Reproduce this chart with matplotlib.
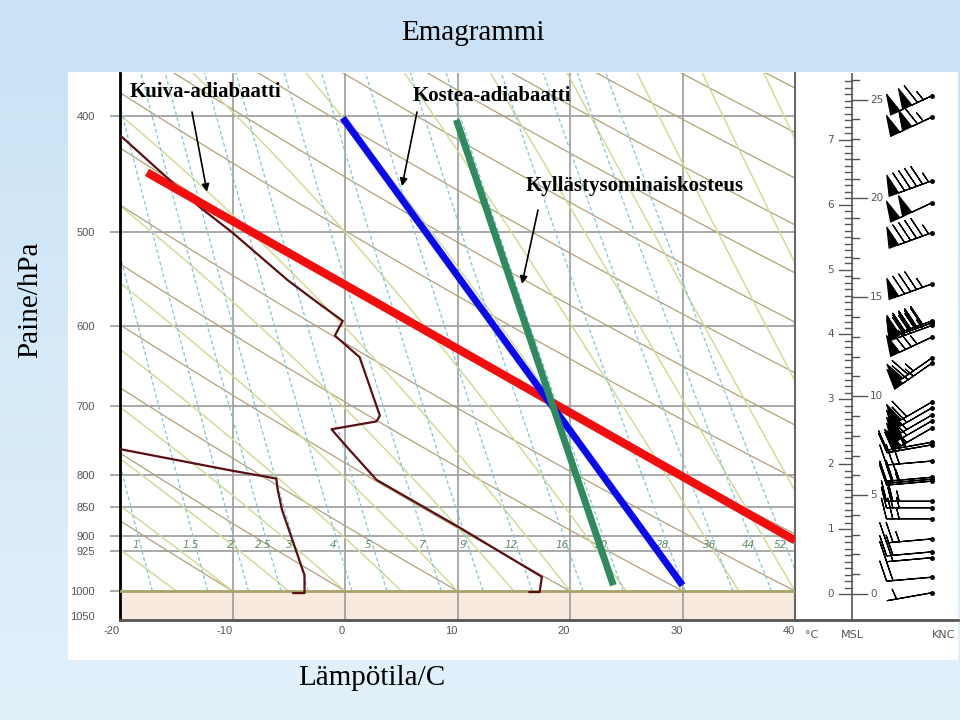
import numpy as np
import matplotlib.pyplot as plt
from matplotlib.patches import Rectangle
from matplotlib.colors import LinearSegmentedColormap
from matplotlib.ticker import NullLocator

# --- sounding (hPa, degC) ---
temp_p = [416, 477, 501, 549, 570, 594, 611, 637, 713, 721, 732, 758, 807, 885, 973, 1002, 1002]
temp_t = [-19.9, -12.9, -10.0, -5.1, -2.8, -0.2, -0.9, 1.3, 3.1, 2.8, -1.2, 0.2, 2.8, 10.2, 17.5, 17.3, 16.4]
dew_p = [759, 793, 805, 821, 855, 970, 1004, 1004]
dew_t = [-20.5, -10.0, -6.1, -6.0, -5.6, -3.6, -3.6, -4.6]

# highlighted example lines
dry_line_t = [-17.6, 40.0]
dry_line_p = [446, 907]
moist_line_t = [-0.2, 30.0]
moist_line_p = [401.5, 989]
sat_line_t = [9.9, 23.85]
sat_line_p = [403, 989]

# background isopleths (value at 1000 hPa / mixing ratio g/kg)
dry_t0 = list(range(-20, 150, 10))
moist_t0 = list(range(-20, 65, 5))
mix_ratio = [1, 1.5, 2, 2.5, 3, 4, 5, 7, 9, 12, 16, 20, 28, 36, 44, 52]

p_ticks = [400, 500, 600, 700, 800, 850, 900, 925, 1000, 1050]
p_grid = [400, 500, 600, 700, 800, 850, 900, 925]
t_ticks = [-20, -10, 0, 10, 20, 30, 40]

# winds: height km, direction deg, speed kt
wind_km = [7.68, 7.35, 6.37, 6.03, 5.57, 4.78, 4.21, 4.18, 4.14, 3.96, 3.64, 3.56,
           2.96, 2.87, 2.76, 2.67, 2.56, 2.34, 2.30, 2.05, 1.80, 1.77, 1.74,
           1.43, 1.33, 1.16, 0.85, 0.65, 0.56, 0.26, 0.02]
wind_dir = [245, 245, 250, 245, 250, 250, 250, 250, 250, 245, 235, 235,
            240, 240, 240, 240, 240, 260, 260, 265, 265, 265, 265,
            270, 270, 270, 265, 265, 265, 265, 260]
wind_kt = [115, 115, 95, 100, 95, 85, 90, 90, 85, 75, 65, 65,
           60, 60, 55, 55, 55, 40, 40, 30, 25, 30, 25,
           25, 25, 25, 25, 20, 20, 20, 5]


def es(tc):
    return 6.112 * np.exp(17.67 * tc / (tc + 243.5))


def mixing_ratio_temp(w, p):
    e = w * p / (622.0 + w)
    a = np.log(e / 6.112)
    return 243.5 * a / (17.67 - a)


def moist_adiabat(t0, p):
    Rd, cp, L, eps = 287.04, 1005.7, 2.501e6, 0.622
    T = t0 + 273.15
    out = [T]
    for i in range(1, len(p)):
        e = es(T - 273.15)
        rs = eps * e / (p[i - 1] - e)
        dT = (Rd * T + L * rs) / (cp + L * L * rs * eps / (Rd * T * T))
        T = T + dT * np.log(p[i] / p[i - 1])
        out.append(T)
    return np.array(out) - 273.15


W, H = 960, 720
fig = plt.figure(figsize=(9.6, 7.2), dpi=100)

# slide background
bg = fig.add_axes([0, 0, 1, 1], zorder=-10)
cmap = LinearSegmentedColormap.from_list('bg', ['#c9e2f5', '#e3f1fb'])
bg.imshow(np.linspace(0, 1, 256).reshape(-1, 1), aspect='auto', cmap=cmap,
          extent=[0, 1, 0, 1])
bg.axis('off')
fig.add_artist(Rectangle((68 / W, 60 / H), 890 / W, 588 / H, transform=fig.transFigure,
                         facecolor='white', edgecolor='none', zorder=-5))

# ---------------- main emagram ----------------
ax = fig.add_axes([120 / W, 100 / H, 675 / W, 547 / H])
ax.set_yscale('log')
ax.set_xlim(-20, 40)
ax.set_ylim(1057.5, 368.2)

pp = np.geomspace(1000, 360, 300)
for t0 in dry_t0:
    ax.plot((t0 + 273.15) * (pp / 1000.0) ** 0.2857 - 273.15, pp, color='#b3a079', lw=0.9, zorder=2)
for t0 in moist_t0:
    ax.plot(moist_adiabat(t0, pp), pp, color='#d2dc96', lw=1.1, zorder=2)
for w in mix_ratio:
    ax.plot(mixing_ratio_temp(w, pp), pp, color='#84c2d8', lw=0.9, dashes=(3, 2), zorder=2)
    ax.annotate(f'{w:g}', xy=(mixing_ratio_temp(w, 915), 915), xytext=(-5, 0),
                textcoords='offset pixels', ha='center', va='center', fontsize=7.5,
                style='italic', color='#5f8f6a', zorder=3)

for p in p_grid:
    ax.axhline(p, color='#a3a3a3', lw=1.3, zorder=1.5)
for t in t_ticks[1:-1]:
    ax.axvline(t, color='#a3a3a3', lw=1.3, zorder=1.5)
ax.axhspan(1000, 1100, color='#f8eadf', zorder=1)
ax.axhline(1000, color='#a8a46a', lw=2, zorder=3)

# sounding
ax.plot(temp_t, temp_p, color='#5c0f12', lw=1.6, zorder=4)
ax.plot(dew_t, dew_p, color='#5c0f12', lw=1.6, zorder=4)

# highlighted lines
ax.plot(dry_line_t, dry_line_p, color='#f40d0d', lw=6, solid_capstyle='butt', zorder=5)
ax.plot(moist_line_t, moist_line_p, color='#0a0aee', lw=5, solid_capstyle='butt', zorder=5)
ax.plot(sat_line_t, sat_line_p, color='#2f8b5e', lw=5, solid_capstyle='butt', zorder=6)

ax.yaxis.set_minor_locator(NullLocator())
ax.set_yticks(p_ticks)
ax.set_yticklabels([str(p) for p in p_ticks], fontsize=8, color='#555555',
                   family=['Liberation Sans', 'DejaVu Sans'])
ax.tick_params(axis='y', length=7, width=1.3, color='#a3a3a3', pad=11)
ax.yaxis.get_major_ticks()[-1].tick1line.set_visible(False)
ax.set_xticks(t_ticks)
ax.set_xticklabels([str(t) for t in t_ticks], fontsize=8, color='#555555', ha='right',
                   family=['Liberation Sans', 'DejaVu Sans'])
ax.tick_params(axis='x', length=0, pad=4)
ax.spines['top'].set_visible(False)
ax.spines['left'].set_color('black')
ax.spines['left'].set_linewidth(2)
ax.spines['bottom'].set_color('#555555')
ax.spines['bottom'].set_linewidth(2)
ax.spines['right'].set_color('#666666')
ax.spines['right'].set_linewidth(1.5)

# annotations
serif = ['Liberation Serif', 'DejaVu Serif']
fig.text(130 / W, 1 - 92 / H, 'Kuiva-adiabaatti', fontsize=15, weight='bold', family=serif,
         va='center', ha='left')
fig.text(413 / W, 1 - 96 / H, 'Kostea-adiabaatti', fontsize=15, weight='bold', family=serif,
         va='center', ha='left')
fig.text(526 / W, 1 - 186 / H, 'Kyllästysominaiskosteus', fontsize=15, weight='bold', family=serif,
         va='center', ha='left')
arrow = dict(arrowstyle='-|>', color='black', lw=1.2, mutation_scale=11, shrinkA=0, shrinkB=0)
ax.annotate('', xy=(-12.27, 463), xytext=(192, H - 112), textcoords='figure pixels', arrowprops=arrow)
ax.annotate('', xy=(5.07, 458), xytext=(417, H - 112), textcoords='figure pixels', arrowprops=arrow)
ax.annotate('', xy=(15.73, 553), xytext=(538, H - 210), textcoords='figure pixels', arrowprops=arrow)

# ---------------- height scale + winds ----------------
axr = fig.add_axes([795 / W, 100 / H, 163 / W, 547 / H])
axr.set_xlim(0, 163)
axr.set_ylim(-0.40, 8.03)
axr.patch.set_alpha(0)
axr.set_xticks([])
axr.set_yticks([])
for s in ['top', 'left', 'right']:
    axr.spines[s].set_visible(False)
axr.spines['bottom'].set_color('#555555')
axr.spines['bottom'].set_linewidth(2)

axr.plot([57, 57], [-0.40, 8.03], color='#555555', lw=1.2)
for k in np.arange(0, 80) / 10:
    major = abs(k - round(k)) < 1e-6
    axr.plot([44 if major else 50, 57], [k, k], color='#555555', lw=1)
for k in range(8):
    axr.text(39, k, str(k), ha='right', va='center', fontsize=7.5, color='#555555')
ft_km = 0.3048
for f in range(27):
    major = f % 5 == 0
    axr.plot([57, 72 if major else 64], [f * ft_km, f * ft_km], color='#555555', lw=1)
    if major:
        axr.text(75, f * ft_km, str(f), ha='left', va='center', fontsize=7.5, color='#555555')

d = np.radians(wind_dir)
u = -np.array(wind_kt) * np.sin(d)
v = -np.array(wind_kt) * np.cos(d)
axr.barbs(np.full(len(wind_km), 137.0), wind_km, u, v, length=8.1, lw=0.9, color='black',
          barbcolor='black', flagcolor='black',
          sizes=dict(spacing=0.14, height=0.45, width=0.22))
axr.plot(np.full(len(wind_km), 137.0), wind_km, 'o', color='black', ms=2.5)

for x, lab in [(17, '°C'), (57, 'MSL'), (149, 'KNC')]:
    axr.text(x, -0.55, lab, ha='center', va='top', fontsize=8, color='#555555')

# titles
fig.text(473 / W, 1 - 33 / H, 'Emagrammi', fontsize=21, family=serif, ha='center', va='center')
fig.text(30 / W, 1 - 300 / H, 'Paine/hPa', fontsize=21, family=serif, ha='center', va='center',
         rotation=90)
fig.text(372 / W, 1 - 678 / H, 'Lämpötila/C', fontsize=21, family=serif, ha='center', va='center')

fig.savefig('out.png', dpi=100)
